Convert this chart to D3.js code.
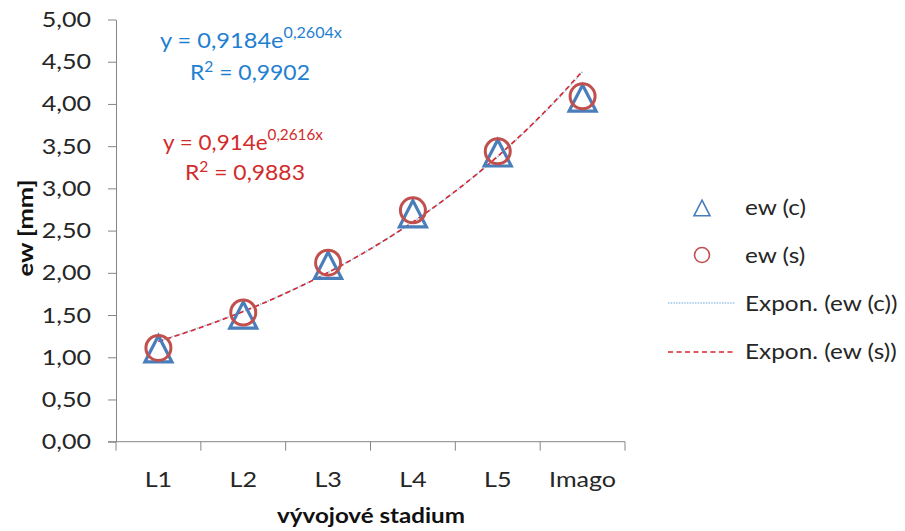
<!DOCTYPE html>
<html>
<head>
<meta charset="utf-8">
<script src="https://cdn.jsdelivr.net/npm/d3@7"></script>
<style>
  html, body { margin: 0; padding: 0; background: #fff; }
  svg { display: block; font-family: Lato, "Open Sans", sans-serif; }
</style>
</head>
<body>
<svg id="chart" width="905" height="531"></svg>
<script>
// Developmental stages and measured eye width (mm)
const stages = ["L1", "L2", "L3", "L4", "L5", "Imago"];
const ewC = [1.10, 1.50, 2.09, 2.70, 3.42, 4.07];
const ewS = [1.11, 1.53, 2.12, 2.74, 3.44, 4.09];

// Exponential trend coefficients y = a * e^(b x), x = 1..6
const trendC = { a: 0.9184, b: 0.2604, r2: "0,9902" };
const trendS = { a: 0.914, b: 0.2616, r2: "0,9883" };

const yTicks = [0, 0.5, 1, 1.5, 2, 2.5, 3, 3.5, 4, 4.5, 5];
const legendLabels = ["ew (c)", "ew (s)", "Expon. (ew (c))", "Expon. (ew (s))"];

const blue = "#4a7ebb", red = "#c0504d";
const blueText = "#1f7fd0", redText = "#d22b2b";
const axisGray = "#868686";
const textCol = "#262626";
const STRETCH = 1.14; // horizontal widening of the label face

const svg = d3.select("#chart");
const plotL = 116, plotR = 625, plotT = 19.5, plotB = 441.7;

const x = d3.scaleBand().domain(stages).range([plotL, plotR]).paddingInner(0).paddingOuter(0);
const y = d3.scaleLinear().domain([0, 5]).range([plotB, plotT]);
const cx = s => x(s) + x.bandwidth() / 2;
// numeric position for trendline x = 1..6
const xn = d3.scaleLinear().domain([1, 6]).range([cx(stages[0]), cx(stages[5])]);

const fmt = v => d3.format(".2f")(v).replace(".", ",");

// place a text at (px, py) widened horizontally by k (optionally rotated)
function place(t, px, py, k, rot) {
  t.attr("x", 0).attr("y", 0)
    .attr("transform", `translate(${px},${py})${rot ? ` rotate(${rot})` : ""} scale(${k},1)`);
  return t;
}
// widen a text so that it spans a given width
function fitTo(t, px, py, width, rot) {
  const w = t.node().getComputedTextLength();
  return place(t, px, py, width / w, rot);
}

// Y axis
const yAxis = svg.append("g")
  .attr("transform", `translate(${plotL},0)`)
  .call(d3.axisLeft(y).tickValues(yTicks).tickFormat(fmt).tickSize(8).tickSizeOuter(0).tickPadding(17));
yAxis.select(".domain").attr("stroke", axisGray);
yAxis.selectAll(".tick line").attr("stroke", axisGray);
yAxis.selectAll(".tick text").attr("fill", textCol).attr("font-size", 22)
  .attr("font-family", "Lato, sans-serif")
  .each(function () { place(d3.select(this), -25, 0, STRETCH); });

// X axis with ticks at category boundaries
const xAxis = svg.append("g").attr("transform", `translate(0,${plotB})`);
xAxis.append("line").attr("x1", plotL - 8).attr("x2", plotR).attr("y1", 0).attr("y2", 0).attr("stroke", axisGray);
const bounds = stages.map(s => x(s)).concat([plotR]);
xAxis.selectAll("line.tk").data(bounds).join("line").attr("class", "tk")
  .attr("x1", d => d).attr("x2", d => d).attr("y1", 0).attr("y2", 9).attr("stroke", axisGray);
xAxis.selectAll("text").data(stages).join("text")
  .attr("text-anchor", "middle").attr("font-size", 22).attr("fill", textCol).text(d => d)
  .each(function (d) { place(d3.select(this), cx(d), 45, STRETCH); });

// Axis titles
fitTo(svg.append("text").attr("text-anchor", "middle").attr("font-size", 21)
  .attr("font-weight", "bold").attr("fill", "#111").text("vývojové stadium"), 371, 523, 188);
fitTo(svg.append("text").attr("text-anchor", "middle").attr("font-size", 21)
  .attr("font-weight", "bold").attr("fill", "#111").text("ew [mm]"), 33, 228, 97, -90);

// Trendlines
const xs = d3.range(1, 6.0001, 0.05);
const line = d3.line().x(d => xn(d[0])).y(d => y(d[1]));
svg.append("path").datum(xs.map(t => [t, trendC.a * Math.exp(trendC.b * t)]))
  .attr("d", line).attr("fill", "none").attr("stroke", "#9cc3e8").attr("stroke-width", 1.6)
  .attr("stroke-dasharray", "1.5,1.2");
svg.append("path").datum(xs.map(t => [t, trendS.a * Math.exp(trendS.b * t)]))
  .attr("d", line).attr("fill", "none").attr("stroke", "#d9262c").attr("stroke-width", 1.6)
  .attr("stroke-dasharray", "5,3.5");

// Markers
function triPath(w) {
  const h = w * 0.97;
  return `M0,${-h / 2}L${w / 2},${h / 2}L${-w / 2},${h / 2}Z`;
}
svg.append("g").selectAll("path").data(ewC).join("path")
  .attr("transform", (d, i) => `translate(${cx(stages[i])},${y(d)})`)
  .attr("d", triPath(27)).attr("fill", "none").attr("stroke", blue).attr("stroke-width", 3.2);
svg.append("g").selectAll("circle").data(ewS).join("circle")
  .attr("cx", (d, i) => cx(stages[i])).attr("cy", d => y(d)).attr("r", 12.5)
  .attr("fill", "none").attr("stroke", red).attr("stroke-width", 3);

// Trend equations
const dec = v => String(v).replace(".", ",");
function equation(tr, color, x0, yb, w0, x1, yb2, w1) {
  const t = svg.append("text").attr("fill", color).attr("font-size", 22);
  t.append("tspan").text("y = " + dec(tr.a) + "e");
  t.append("tspan").attr("dy", -10).attr("font-size", 15).text(dec(tr.b) + "x");
  fitTo(t, x0, yb, w0);
  const r = svg.append("text").attr("fill", color).attr("font-size", 22);
  r.append("tspan").text("R");
  r.append("tspan").attr("dy", -8).attr("font-size", 15).text("2");
  r.append("tspan").attr("dy", 8).text(" = " + tr.r2);
  fitTo(r, x1, yb2, w1);
}
equation(trendC, blueText, 160, 48, 182, 190, 80, 120);
equation(trendS, redText, 163, 150, 160, 185, 180, 120);

// Legend
const lg = svg.append("g");
const lx = 702, lt = 745;
lg.append("path").attr("transform", `translate(${lx},208)`).attr("d", triPath(16))
  .attr("fill", "none").attr("stroke", blue).attr("stroke-width", 1.6);
lg.append("circle").attr("cx", lx).attr("cy", 255).attr("r", 7.5)
  .attr("fill", "none").attr("stroke", red).attr("stroke-width", 1.6);
lg.append("line").attr("x1", 668).attr("x2", 735).attr("y1", 303).attr("y2", 303)
  .attr("stroke", "#9cc3e8").attr("stroke-width", 1.6).attr("stroke-dasharray", "1.5,1.2");
lg.append("line").attr("x1", 668).attr("x2", 735).attr("y1", 352).attr("y2", 352)
  .attr("stroke", "#d9262c").attr("stroke-width", 1.6).attr("stroke-dasharray", "5,3.5");
const legendY = [215, 263, 311, 359];
lg.selectAll("text").data(legendLabels).join("text")
  .attr("font-size", 21).attr("fill", textCol).text(d => d)
  .each(function (d, i) { place(d3.select(this), lt, legendY[i], 1.16); });
</script>
</body>
</html>
